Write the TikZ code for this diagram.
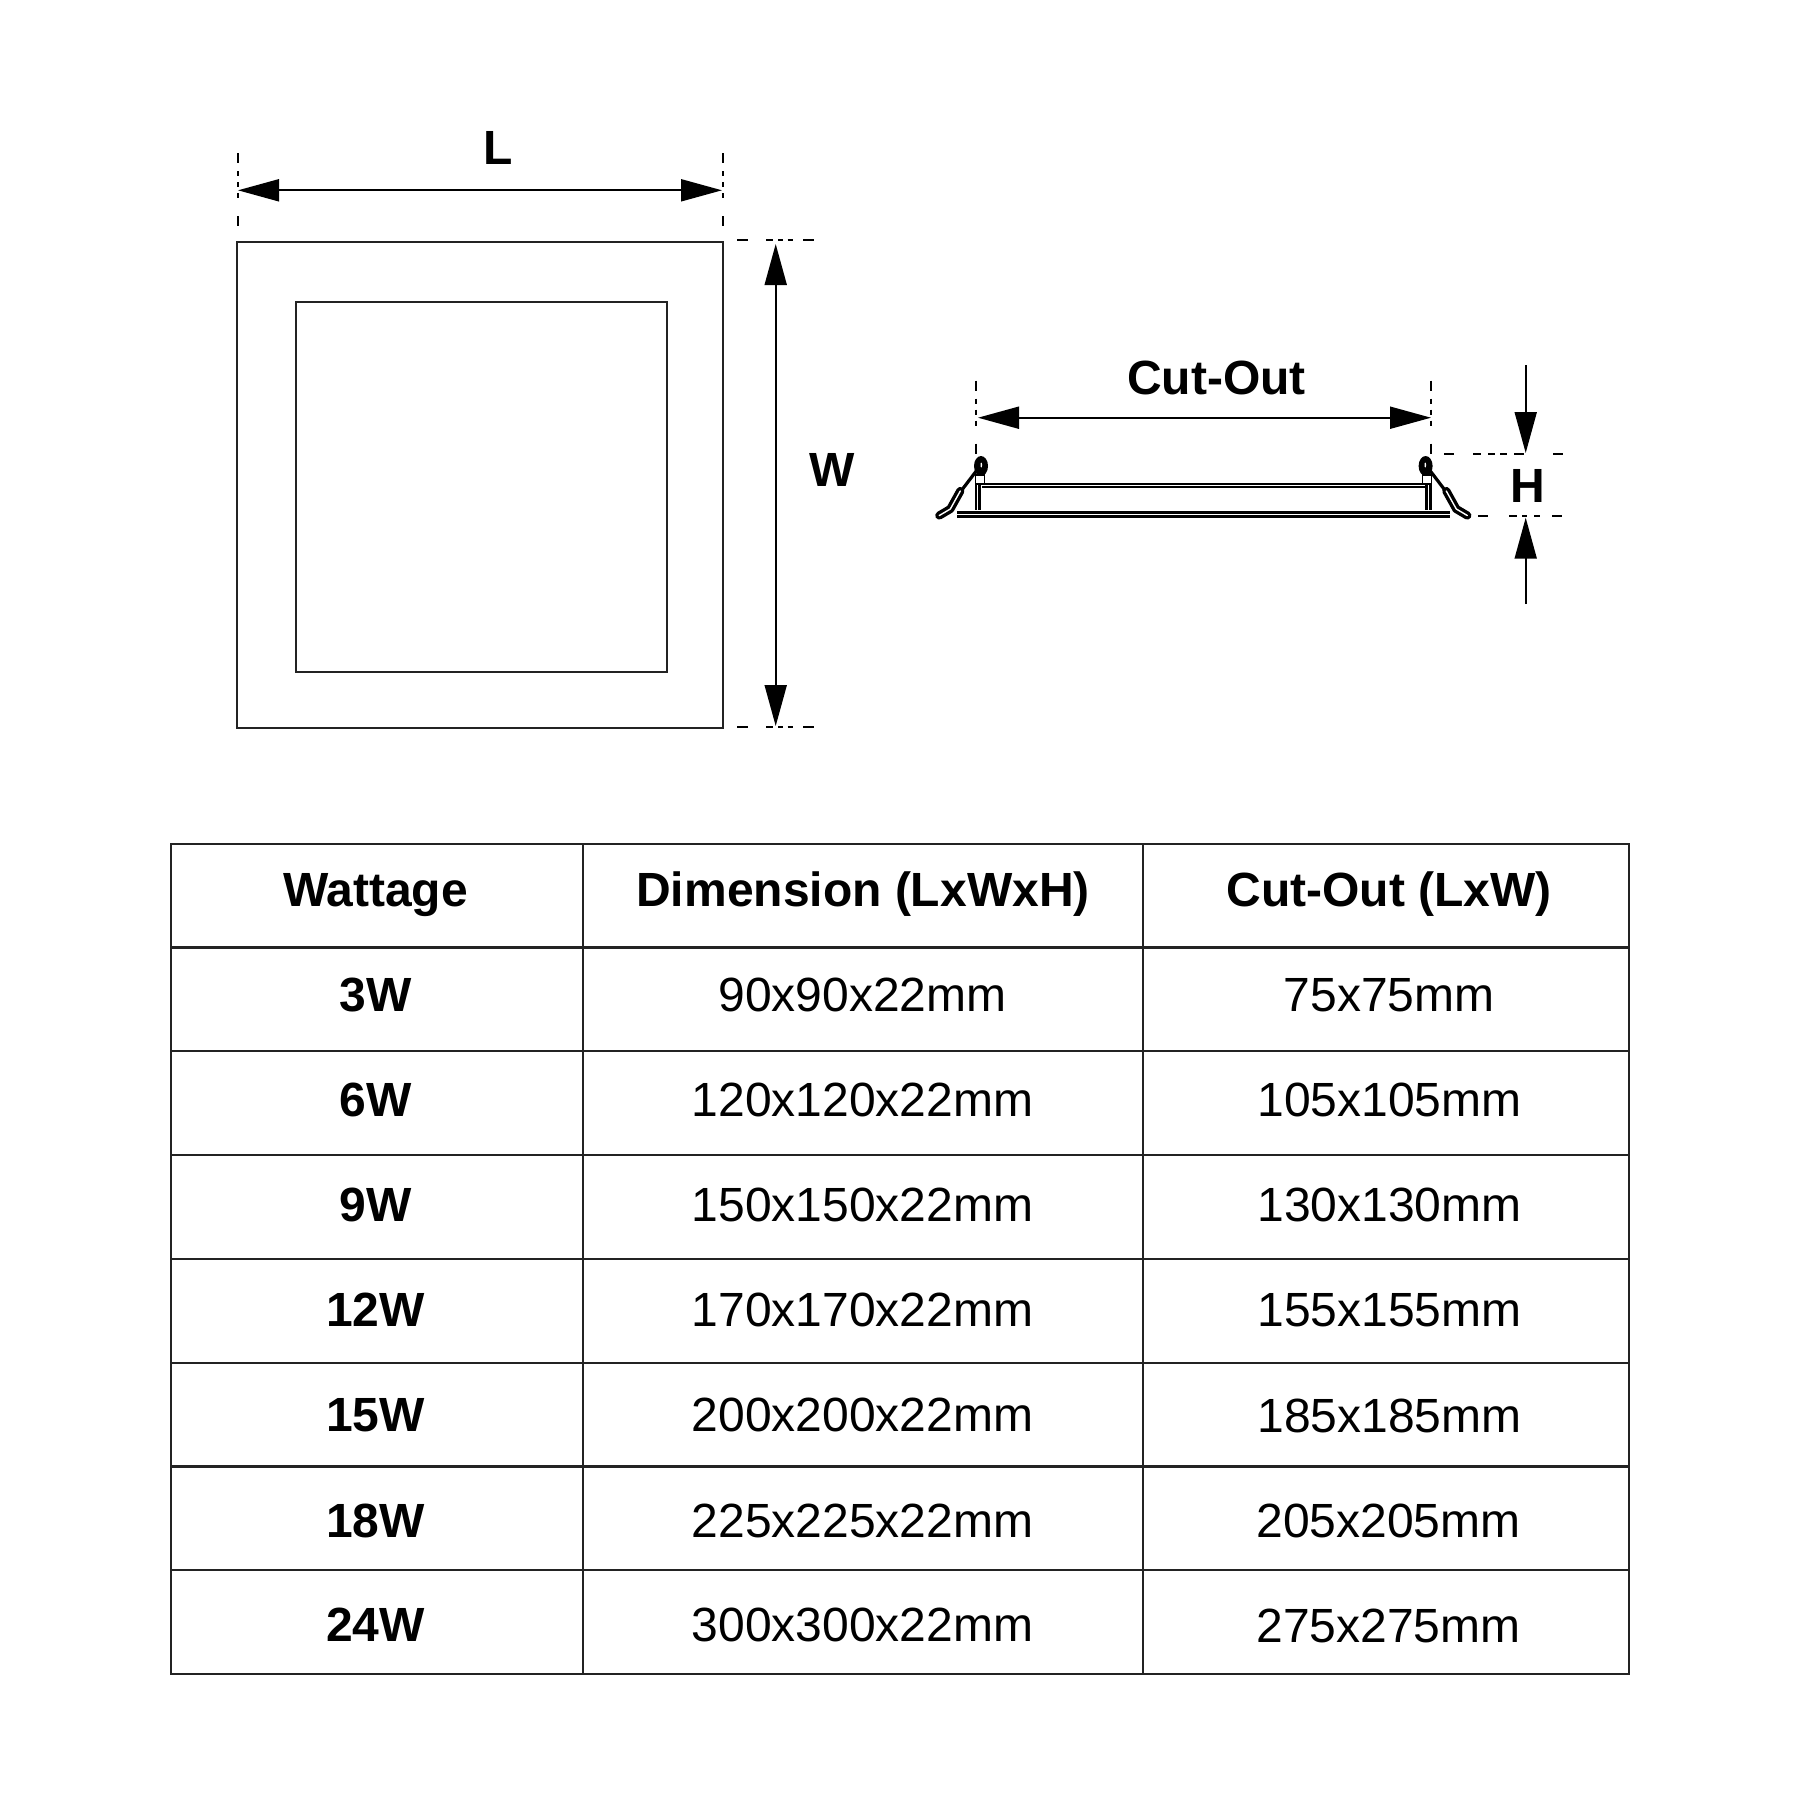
\documentclass[tikz,border=0pt]{standalone}
\usepackage{fontspec}
\setmainfont{Liberation Sans}
\usepackage{tikz}
\usetikzlibrary{arrows.meta,positioning,calc}
\definecolor{gridblack}{RGB}{35,35,35}
\newcommand{\bodyfont}{\fontsize{48pt}{50pt}\selectfont}
\newcommand{\headfont}{\fontsize{48pt}{50pt}\selectfont\bfseries}
\tikzset{
    outline/.style={draw=gridblack,line width=2.2pt},
    gridline/.style={draw=gridblack,line width=2.2pt},
    dimarrow/.style={{Triangle[length=41pt,width=22pt]}-{Triangle[length=41pt,width=22pt]},line width=2pt},
    dimarrowend/.style={-{Triangle[length=41pt,width=22pt]},line width=2pt},
    dimdash/.style={line width=2pt,dash pattern=on 10pt off 8pt on 5pt off 6pt on 5pt off 6pt on 5pt off 18pt},
    sidedash/.style={line width=2.2pt,dash pattern=on 11pt off 18pt on 7pt off 5pt on 5pt off 4.5pt on 5.5pt off 10pt},
    headcell/.style={anchor=base,inner sep=0pt,font=\headfont},
    bodycell/.style={anchor=base,inner sep=0pt,font=\bodyfont},
    rowlabel/.style={anchor=base,inner sep=0pt,font=\headfont},
    dimlabel/.style={inner sep=0pt,font=\headfont}
}
\begin{document}
\begin{tikzpicture}[x=1pt,y=-1pt]
        \useasboundingbox (0,0) rectangle (1800,1800);

        % Front view
        \draw[outline] (236.7,241.7) rectangle (722.6,727.7);
        \draw[outline] (295.7,301.6) rectangle (666.6,672.3);

        % L dimension
        \coordinate (ltop) at (237.5,153);
        \coordinate (lbot) at (237.5,228);
        \coordinate (rtop) at (722.5,153);
        \coordinate (rbot) at (722.5,228);
        \draw[dimdash] (ltop) -- (lbot);
        \draw[dimdash] (rtop) -- (rbot);
        \coordinate (larrowa) at (238,190.3);
        \coordinate (larrowb) at (722,190.3);
        \draw[dimarrow] (larrowa) -- (larrowb);
        \node[dimlabel] (llabel) at (498.5,148) {L};

        % W dimension
        \coordinate (wtopa) at (737,239.7);
        \coordinate (wtopb) at (814,239.7);
        \coordinate (wbota) at (737,727.3);
        \coordinate (wbotb) at (814,727.3);
        \draw[sidedash] (wtopa) -- (wtopb);
        \draw[sidedash] (wbota) -- (wbotb);
        \coordinate (warrowa) at (775.7,244);
        \coordinate (warrowb) at (775.7,726);
        \draw[dimarrow] (warrowa) -- (warrowb);
        \node[dimlabel] (wlabel) at (832,469.7) {W};

        % Side view
        \draw[line width=3pt,double=white,double distance=1.6pt] (957,514.5) -- (1449.5,514.5);
        \draw[line width=2pt,double=white,double distance=1.2pt] (981.7,485.5) -- (1424.9,485.5);
        \foreach \m in {1,-1} {
            \begin{scope}[shift={(1203.3,0)},xscale=\m]
                % post and bracket
                \draw[line width=2.8pt,double=white,double distance=1pt] (-225.4,478) -- (-225.4,510);
                \draw[line width=1.6pt,fill=white] (-228,475) rectangle (-219,484);
                % clip arm
                \draw[line width=3.2pt] (-224,467) -- (-243,492);
                \draw[line width=3.4pt,double=white,double distance=1.4pt,line cap=round,line join=round]
                    (-243,491) -- (-253,509) -- (-264,515.5);
                % knob
                \fill (-222.3,466) ellipse [x radius=7pt,y radius=10pt];
                \fill[white] (-222,465) ellipse [x radius=0.8pt,y radius=2.5pt];
            \end{scope}
        }

        % Cut-Out dimension
        \coordinate (cltop) at (975.7,380.7);
        \coordinate (clbot) at (975.7,455);
        \coordinate (crtop) at (1431,380.7);
        \coordinate (crbot) at (1431,455);
        \draw[dimdash] (cltop) -- (clbot);
        \draw[dimdash] (crtop) -- (crbot);
        \coordinate (carrowa) at (978,417.7);
        \coordinate (carrowb) at (1431,417.7);
        \draw[dimarrow] (carrowa) -- (carrowb);
        \node[dimlabel] (clabel) at (1216.5,377.7) {Cut-Out};

        % H dimension
        \coordinate (htopa) at (1444,454);
        \coordinate (htopb) at (1562.7,454);
        \coordinate (hbota) at (1478,515.7);
        \coordinate (hbotb) at (1562.7,515.7);
        \draw[line width=2.2pt,dash pattern=on 10pt off 19pt on 8pt off 7pt on 7pt off 5pt on 7pt off 7pt on 10pt off 29pt] (htopa) -- (htopb);
        \draw[line width=2.2pt,dash pattern=on 10pt off 21pt on 8pt off 5pt on 5pt off 7pt on 6pt off 12pt] (hbota) -- (hbotb);
        \coordinate (harrowa) at (1525.7,365);
        \coordinate (harrowb) at (1525.7,453);
        \coordinate (harrowc) at (1525.7,604);
        \coordinate (harrowd) at (1525.7,517.7);
        \draw[dimarrowend] (harrowa) -- (harrowb);
        \draw[dimarrowend] (harrowc) -- (harrowd);
        \node[dimlabel] (hlabel) at (1528,486) {H};

        % Table grid
        \draw[gridline] (171,843.7) rectangle (1629,1674);
        \draw[gridline] (583,843.7) -- (583,1674);
        \draw[gridline] (1143,843.7) -- (1143,1674);
        \foreach \y in {947.5,1051.3,1155.1,1258.9,1362.7,1466.5,1570.3} {
            \draw[gridline] (171,\y) -- (1629,\y);
        }

        % Header row
        \node[headcell] (hwatt) at (375.5,906.7) {Wattage};
        \node[headcell] (hdim) at (863,906.7) {Dimension (LxWxH)};
        \node[headcell] (hcut) at (1389,906.7) {Cut-Out (LxW)};

        % 3W
        \node[rowlabel] (w3) at (375.5,1011.5) {3W};
        \node[bodycell] (d3) at (862.5,1011.5) {90x90x22mm};
        \node[bodycell] (c3) at (1389,1011.5) {75x75mm};

        % 6W
        \node[rowlabel] (w6) at (375.5,1116.7) {6W};
        \node[bodycell] (d6) at (862.5,1116.7) {120x120x22mm};
        \node[bodycell] (c6) at (1389.5,1116.7) {105x105mm};

        % 9W
        \node[rowlabel] (w9) at (375.5,1221.9) {9W};
        \node[bodycell] (d9) at (862.5,1221.9) {150x150x22mm};
        \node[bodycell] (c9) at (1389.5,1221.9) {130x130mm};

        % 12W
        \node[rowlabel] (w12) at (375.5,1326.5) {12W};
        \node[bodycell] (d12) at (862.5,1326.5) {170x170x22mm};
        \node[bodycell] (c12) at (1389.5,1326.5) {155x155mm};

        % 15W
        \node[rowlabel] (w15) at (375.5,1431.5) {15W};
        \node[bodycell] (d15) at (862.5,1431.5) {200x200x22mm};
        \node[bodycell] (c15) at (1389.5,1432.3) {185x185mm};

        % 18W
        \node[rowlabel] (w18) at (375.5,1537) {18W};
        \node[bodycell] (d18) at (862.5,1537) {225x225x22mm};
        \node[bodycell] (c18) at (1388.5,1537.5) {205x205mm};

        % 24W
        \node[rowlabel] (w24) at (375.5,1641.7) {24W};
        \node[bodycell] (d24) at (862.5,1641.7) {300x300x22mm};
        \node[bodycell] (c24) at (1388.5,1642.7) {275x275mm};
\end{tikzpicture}
\end{document}
